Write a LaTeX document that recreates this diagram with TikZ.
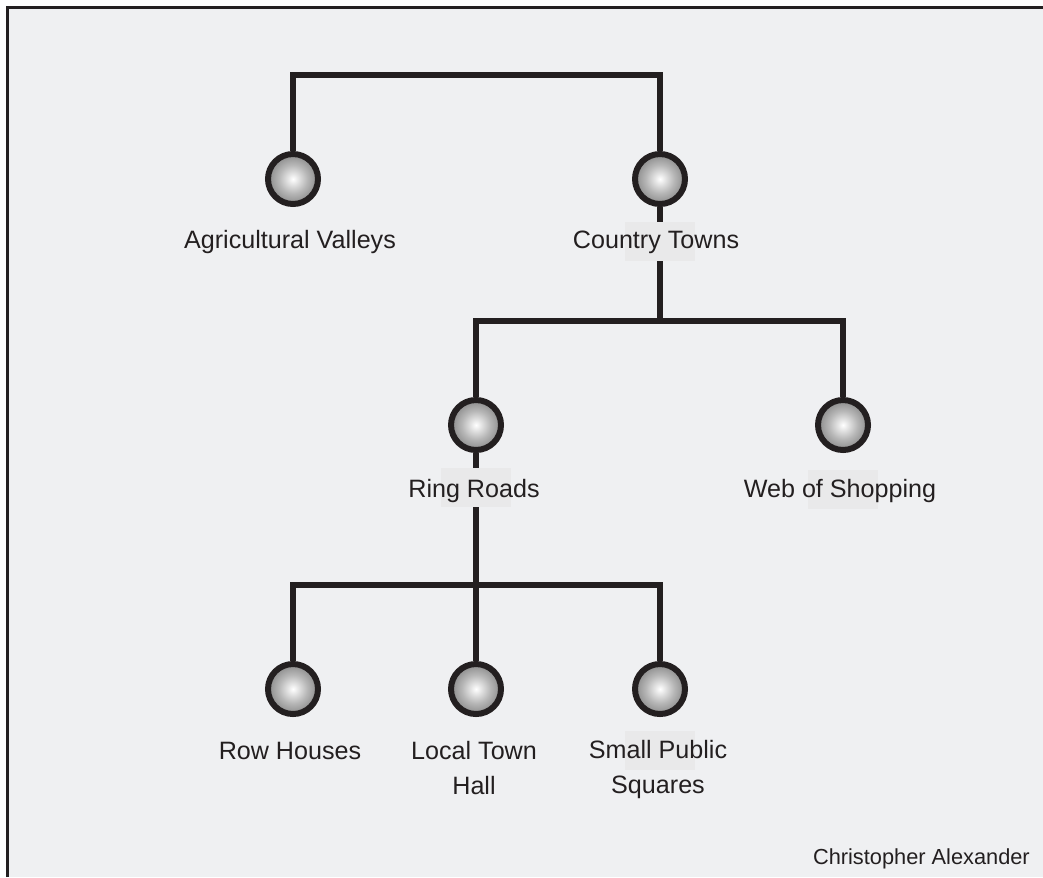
\documentclass[tikz,border=0pt]{standalone}
\usepackage{fontspec}
\setmainfont{Liberation Sans}
\definecolor{paper}{RGB}{239,240,242}
\definecolor{patch}{RGB}{233,233,234}
\definecolor{ink}{RGB}{35,31,32}
\pgfdeclareradialshading{ballshade}{\pgfpoint{0bp}{0bp}}{color(0bp)=(white); color(4bp)=(black!8); color(14bp)=(black!28); color(25bp)=(black!46); color(50bp)=(black!55)}
\begin{document}
\begin{tikzpicture}[x=0.02cm,y=-0.02cm,
  ball/.style={circle,draw=ink,line width=0.12cm,shading=ballshade,minimum size=1cm,inner sep=0pt},
  branch/.style={draw=ink,line width=0.125cm},
  mask/.style={fill=patch,minimum width=1.4cm,minimum height=0.78cm,inner sep=0pt},
  lbl/.style={text=ink,align=center,font=\fontsize{14.3}{19.9}\selectfont}]
\useasboundingbox (0,0) rectangle (1043,877);
\fill[white] (0,0) rectangle (1043,877);
\fill[paper] (7,7) rectangle (1043,877);
\draw[ink,line width=0.055cm] (7.3,877) -- (7.3,7.3) -- (1043,7.3);

% points where the branches split
\coordinate (top) at (476,75);
\coordinate (mid) at (660,321);
\coordinate (low) at (476,585);

\node[ball] (av) at (293,179) {};
\node[ball] (ct) at (660,179) {};
\node[ball] (rr) at (476,425) {};
\node[ball] (ws) at (843,425) {};
\node[ball] (rh) at (293,689) {};
\node[ball] (lt) at (476,689) {};
\node[ball] (sp) at (660,689) {};

\draw[branch] (av) |- (top) -| (ct);
\draw[branch] (ct) -- (mid);
\draw[branch] (rr) |- (mid) -| (ws);
\draw[branch] (rr) -- (lt);
\draw[branch] (rh) |- (low) -| (sp);

\node[mask] (ctm) at (660,241.5) {};
\node[mask] (rrm) at (476,487) {};
\node[mask] (wsm) at (843,489.5) {};
\node[mask] (spm) at (660,750.5) {};

\node[lbl] (avl) at (290,242) {Agricultural Valleys};
\node[lbl] (ctl) at (656,242) {Country Towns};
\node[lbl] (rrl) at (474,491) {Ring Roads};
\node[lbl] (wsl) at (840,491) {Web of Shopping};
\node[lbl] (rhl) at (290,751) {Row Houses};
\node[lbl] (ltl) at (474,768) {Local Town\\Hall};
\node[lbl] (spl) at (658,769) {Small Public\\Squares};
\node[lbl,anchor=east,font=\fontsize{12.4}{15}\selectfont] (ca) at (1036,859) {Christopher Alexander};
\end{tikzpicture}
\end{document}
